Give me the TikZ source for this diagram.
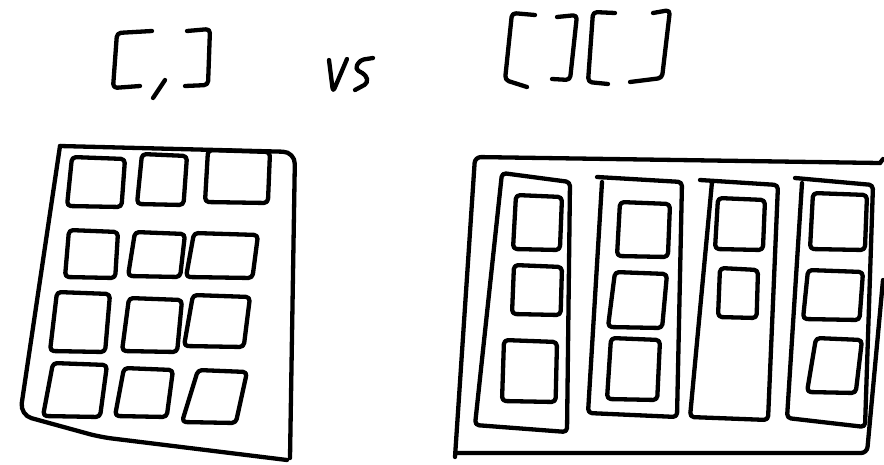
\documentclass[tikz,border=0pt]{standalone}
\tikzset{ink/.style={line width=4.3pt, line cap=round, line join=round, rounded corners=4pt}}
\newcommand\qsq[5]{\draw[ink] (#1+#5,#2) -- (#3,#2+2) -- (#3-#5*0.7,#4) -- (#1,#4-1) -- cycle;}
\begin{document}
\begin{tikzpicture}[x=1pt,y=-1pt]
\useasboundingbox[fill=white] (0,0) rectangle (884,464);
% ---- text "[,]"
\draw[ink] (152,31) -- (117,33) -- (113,88) -- (140,86);
\draw[ink] (165,80) -- (153,98);
\draw[ink] (187,31) -- (210,29) -- (208,85) -- (185,86);
% ---- "vs"
\draw[ink] (329,60) -- (333,92) -- (347,59);
\draw[ink, rounded corners=4pt] (373,58) -- (360,60) -- (355,69) -- (366,75) -- (368,83) -- (355,90);
% ---- "[][]"
\draw[ink] (535,15) -- (512,13) -- (505,80) -- (527,87);
\draw[ink] (557,17) -- (577,15) -- (570,80) -- (552,79);
\draw[ink] (615,13) -- (593,12) -- (588,82) -- (608,84);
\draw[ink] (653,13) -- (670,10) -- (662,78) -- (630,82);
% ---- left grid frame
\draw[ink, rounded corners=12pt] (60,146) -- (295,152) -- (290,458);
\draw[ink, rounded corners=12pt] (60,146) -- (20,415) -- (100,437) -- (287,460);
% left grid squares
\qsq{67}{157}{125}{207}{5}
\qsq{137}{154}{187}{205}{5}
\qsq{205}{150}{270}{203}{3}
\qsq{65}{230}{118}{278}{4}
\qsq{128}{232}{185}{277}{7}
\qsq{186}{233}{258}{278}{8}
\qsq{50}{292}{110}{352}{7}
\qsq{122}{298}{182}{352}{7}
\qsq{184}{295}{250}{347}{9}
\qsq{43}{363}{107}{417}{10}
\qsq{115}{368}{173}{417}{9}
\qsq{182}{370}{247}{423}{16}
% ---- right grid frame
\draw[ink, rounded corners=6pt] (880,163) -- (475,157) -- (455,457);
\draw[ink, rounded corners=6pt] (457,453) -- (867,453) -- (883,280);
\draw[ink] (880,163) -- (883,159);
% columns
\draw[ink] (502,173) -- (570,182) -- (567,432) -- (475,425) -- cycle;
\draw[ink] (597,177) -- (682,182) -- (677,417) -- (588,413) -- (602,182);
\draw[ink] (700,180) -- (778,185) -- (768,420) -- (690,417) -- (712,182);
\draw[ink] (795,178) -- (873,185) -- (865,427) -- (787,418) -- (802,183);
% squares in columns
\qsq{513}{195}{562}{250}{3}
\qsq{512}{265}{562}{315}{2}
\qsq{502}{340}{557}{402}{2}
\qsq{617}{202}{670}{257}{3}
\qsq{608}{272}{667}{328}{7}
\qsq{607}{338}{660}{400}{4}
\qsq{715}{198}{765}{250}{3}
\qsq{718}{268}{758}{318}{2}
\qsq{810}{193}{867}{250}{3}
\qsq{803}{270}{863}{320}{5}
\qsq{807}{338}{862}{393}{9}
\end{tikzpicture}
\end{document}
